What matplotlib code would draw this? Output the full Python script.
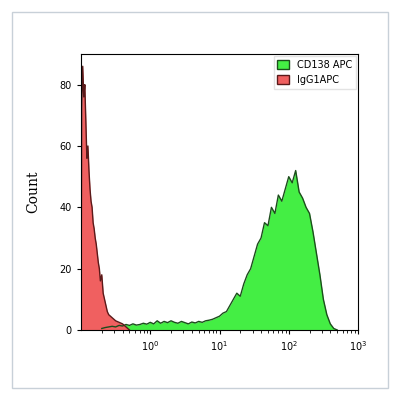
import numpy as np
import matplotlib
matplotlib.use("Agg")
import matplotlib.pyplot as plt
from matplotlib.patches import Rectangle

red_logx = [-1.0,-0.99,-0.975,-0.96,-0.945,-0.93,-0.915,-0.9,-0.885,-0.87,-0.855,-0.84,-0.825,-0.81,-0.795,-0.78,-0.765,-0.75,-0.735,-0.72,-0.7,-0.68,-0.66,-0.64,-0.62,-0.6,-0.55,-0.5,-0.45,-0.4,-0.35,-0.3]
red_counts = [0,72,86,76,80,68,56,60,52,46,42,40,35,33,30,28,25,22,20,16,18,12,10,8,6,5,4,3,2.5,2,1,0]
green_logx = list(np.round(np.arange(-0.7, 2.7001, 0.05), 3))
green_counts = [0.5,0.8,1,1.2,1,1.5,1.3,1.8,1.5,2,1.6,1.8,2.2,1.9,
                2.5,2,3,2.2,2.8,2.4,3,2.5,2.2,2.8,2.4,2,2.6,2.3,2.8,2.5,3,3.2,3.5,4,
                4.5,5.5,6,8,10,12,11,15,18,20,24,28,30,35,34,40,38,44,42,46,
                50,48,52,45,43,40,38,32,25,18,10,5,2,0.5,0]

fig = plt.figure(figsize=(4,4), dpi=100)
fig.patches.append(Rectangle((0.03,0.03),0.94,0.94,transform=fig.transFigure,fill=False,edgecolor='#c8d0d8',lw=1))
ax = fig.add_axes([0.2025,0.175,0.6925,0.69])
gx = 10**np.array(green_logx); rx = 10**np.array(red_logx)
ax.fill_between(gx, green_counts, color='#44ee44', lw=0)
ax.plot(gx, green_counts, color='#1c4d1c', lw=1)
ax.fill_between(rx, red_counts, color='#f06060', lw=0)
ax.plot(rx, red_counts, color='#5a1a1a', lw=1)
ax.set_xscale('log')
ax.set_xlim(0.1, 1000)
ax.set_ylim(0, 90)
ax.set_yticks([0,20,40,60,80])
ax.set_xticks([1,10,100,1000])
ax.set_xticklabels([r'$10^0$',r'$10^1$',r'$10^2$',r'$10^3$'])
ax.tick_params(labelsize=7, length=3)
ax.tick_params(which='minor', length=2)
ax.set_ylabel('Count', family='DejaVu Serif', fontsize=10, labelpad=14)
ax.legend(handles=[Rectangle((0,0),1,1,fc='#44ee44',ec='#1c4d1c'),Rectangle((0,0),1,1,fc='#f06060',ec='#5a1a1a')],
          labels=['CD138 APC','IgG1APC'], loc='upper right', fontsize=7, frameon=True,
          fancybox=False, borderaxespad=0.2, handlelength=1.2, handleheight=1.0, edgecolor='#dddddd')
fig.savefig('out.png', dpi=100)
